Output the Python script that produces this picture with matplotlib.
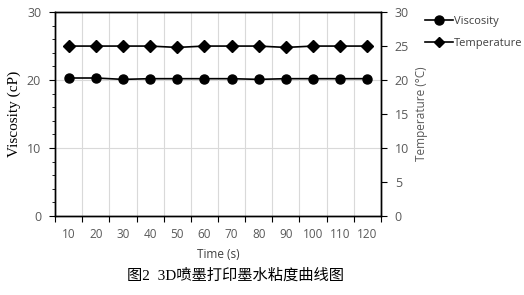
import numpy as np
import matplotlib
matplotlib.use("Agg")
import matplotlib.pyplot as plt
from matplotlib.lines import Line2D

# data
times = [10, 20, 30, 40, 50, 60, 70, 80, 90, 100, 110, 120]
viscosity = [20.3, 20.3, 20.1, 20.2, 20.2, 20.2, 20.2, 20.1, 20.2, 20.2, 20.2, 20.2]
temperature = [25.0, 25.0, 25.0, 25.0, 24.8, 25.0, 25.0, 25.0, 24.8, 25.0, 25.0, 25.0]
caption = "图2  3D喷墨打印墨水粘度曲线图"

tick_color = "#595959"
grid_color = "#d9d9d9"

fig = plt.figure(figsize=(5.24, 2.95), dpi=100)
ax = fig.add_axes([0.105, 0.268, 0.622, 0.691])
ax2 = ax.twinx()

x = np.arange(len(times))
ax.plot(x, viscosity, color="black", lw=1.2, marker="o", ms=6.5, zorder=3)
ax2.plot(x, temperature, color="black", lw=1.2, marker="D", ms=6, zorder=3)

# categorical x axis: ticks on category boundaries, labels in the middle
ax.set_xlim(-0.5, len(times) - 0.5)
ax.set_xticks(np.arange(-0.5, len(times), 1.0))
ax.set_xticklabels([])
ax.set_xticks(x, minor=True)
ax.set_xticklabels([str(t) for t in times], minor=True)
ax.tick_params(axis="x", which="major", direction="out", length=4, color="black")
ax.tick_params(axis="x", which="minor", length=0, pad=9, labelsize=8.5, labelcolor=tick_color)
ax.grid(axis="x", which="major", color=grid_color, lw=0.8)
ax.grid(axis="y", which="major", color=grid_color, lw=0.8)
ax.set_axisbelow(True)

ax.set_ylim(0, 30)
ax.set_yticks([0, 10, 20, 30])
ax.set_yticks(np.arange(0, 31, 2), minor=True)
ax.tick_params(axis="y", which="major", direction="out", length=4, labelsize=9, labelcolor=tick_color, pad=6)
ax.tick_params(axis="y", which="minor", direction="out", length=2.5)

ax2.set_ylim(0, 30)
ax2.set_yticks(np.arange(0, 31, 5))
ax2.tick_params(axis="y", direction="out", length=4, labelsize=9, labelcolor=tick_color, pad=6)

for a in (ax, ax2):
    for s in a.spines.values():
        s.set_color("black")
        s.set_linewidth(1.0)

ax.set_xlabel("Time (s)", fontsize=8.5, color="#404040", family="Open Sans", labelpad=5)
ax.set_ylabel("Viscosity (cP)", fontsize=11, family="Liberation Serif", labelpad=4)
ax2.set_ylabel("Temperature (°C)", fontsize=8.5, color=tick_color, family="Open Sans", labelpad=4)

for lab in ax.get_xticklabels(minor=True) + ax.get_yticklabels() + ax2.get_yticklabels():
    lab.set_family("Open Sans")

handles = [
    Line2D([], [], color="black", lw=1.2, marker="o", ms=6.5),
    Line2D([], [], color="black", lw=1.2, marker="D", ms=5),
]
fig.legend(handles, ["Viscosity", "Temperature"], loc="upper left",
           bbox_to_anchor=(0.812, 0.945), frameon=False, borderpad=0, borderaxespad=0,
           handlelength=2.5, handletextpad=0.05, labelspacing=1.0,
           prop={"family": "Open Sans", "size": 8}, labelcolor="#404040")

fig.text(0.449, 0.04, caption, ha="center", va="bottom", fontsize=11,
         family=["Liberation Serif", "Noto Sans CJK SC"])

fig.savefig("out.png", dpi=100)
